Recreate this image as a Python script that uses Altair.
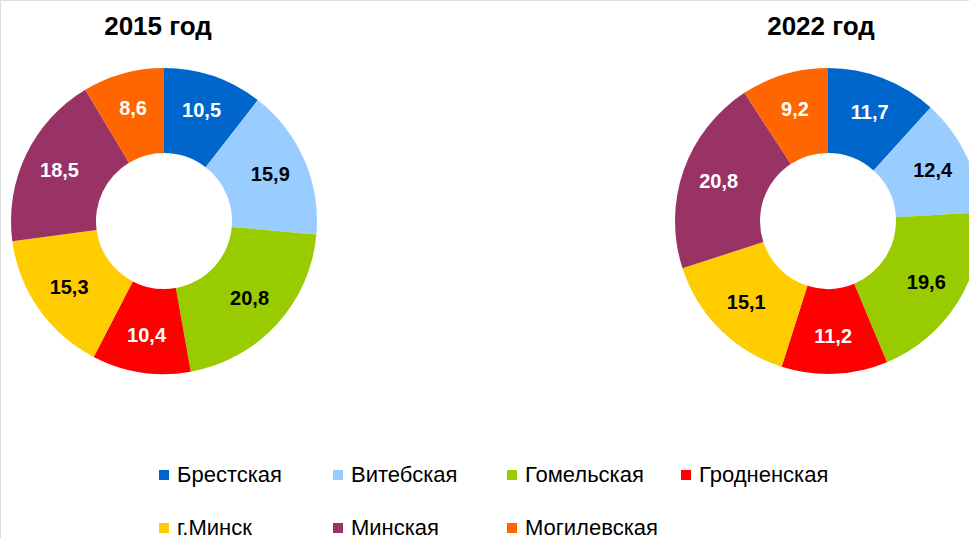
import altair as alt
import pandas as pd

regions = ["Брестская", "Витебская", "Гомельская", "Гродненская", "г.Минск", "Минская", "Могилевская"]
colors = ["#0066CC", "#99CCFF", "#99CC00", "#FF0000", "#FFCC00", "#993366", "#FF6600"]
label_colors = ["white", "black", "black", "white", "black", "white", "white"]
values_2015 = [10.5, 15.9, 20.8, 10.4, 15.3, 18.5, 8.6]
values_2022 = [11.7, 12.4, 19.6, 11.2, 15.1, 20.8, 9.2]
titles = ["2015 год", "2022 год"]

FONT = "Liberation Sans"


def make_df(vals):
    return pd.DataFrame({
        "region": regions,
        "value": vals,
        "idx": list(range(len(regions))),
        "label": [f"{v:.1f}".replace(".", ",") for v in vals],
        "tc": label_colors,
    })


color_scale = alt.Scale(domain=regions, range=colors)


def donut(df, cx, cy, show_legend):
    base = alt.Chart(df)
    arc = base.mark_arc(outerRadius=153, innerRadius=68).encode(
        theta=alt.Theta("value:Q", stack=True),
        color=alt.Color(
            "region:N", scale=color_scale, sort=regions,
            legend=alt.Legend(
                title=None, orient="none", legendX=153, legendY=464,
                columns=4, direction="horizontal", symbolType="square",
                symbolSize=100, symbolStrokeWidth=0, labelFont=FONT,
                labelFontSize=22, labelColor="#000000", labelOffset=2,
                columnPadding=17, rowPadding=31, padding=0, gridAlign="all",
                labelLimit=300,
            ) if show_legend else None,
        ),
        order=alt.Order("idx:Q"),
        x=alt.value(cx), y=alt.value(cy),
        tooltip=["region:N", "value:Q"],
    )
    text = base.mark_text(radius=116, font=FONT, fontSize=20, fontWeight="bold",
                          align="center", baseline="middle").encode(
        theta=alt.Theta("value:Q", stack=True),
        text="label:N",
        fill=alt.Fill("tc:N", scale=None),
        order=alt.Order("idx:Q"),
        x=alt.value(cx), y=alt.value(cy),
    )
    return arc, text


a1, t1 = donut(make_df(values_2015), 164, 221, True)
a2, t2 = donut(make_df(values_2022), 828, 221, False)

title_df = pd.DataFrame({"t": titles, "cx": [158, 821]})
title_layer = alt.Chart(title_df).mark_text(
    font=FONT, fontSize=26, fontWeight="bold", color="black",
    align="center", baseline="middle",
).encode(
    text="t:N",
    x=alt.X("cx:Q", scale=alt.Scale(domain=[0, 969], range=[0, 969]), axis=None),
    y=alt.value(27),
)

chart = alt.layer(a1, t1, a2, t2, title_layer).properties(
    width=969, height=538, padding=0,
    autosize=alt.AutoSizeParams(type="none"),
).configure_view(stroke=None).configure(background="white")

chart.save("out.html", embed_options={"renderer": "svg", "actions": False})
